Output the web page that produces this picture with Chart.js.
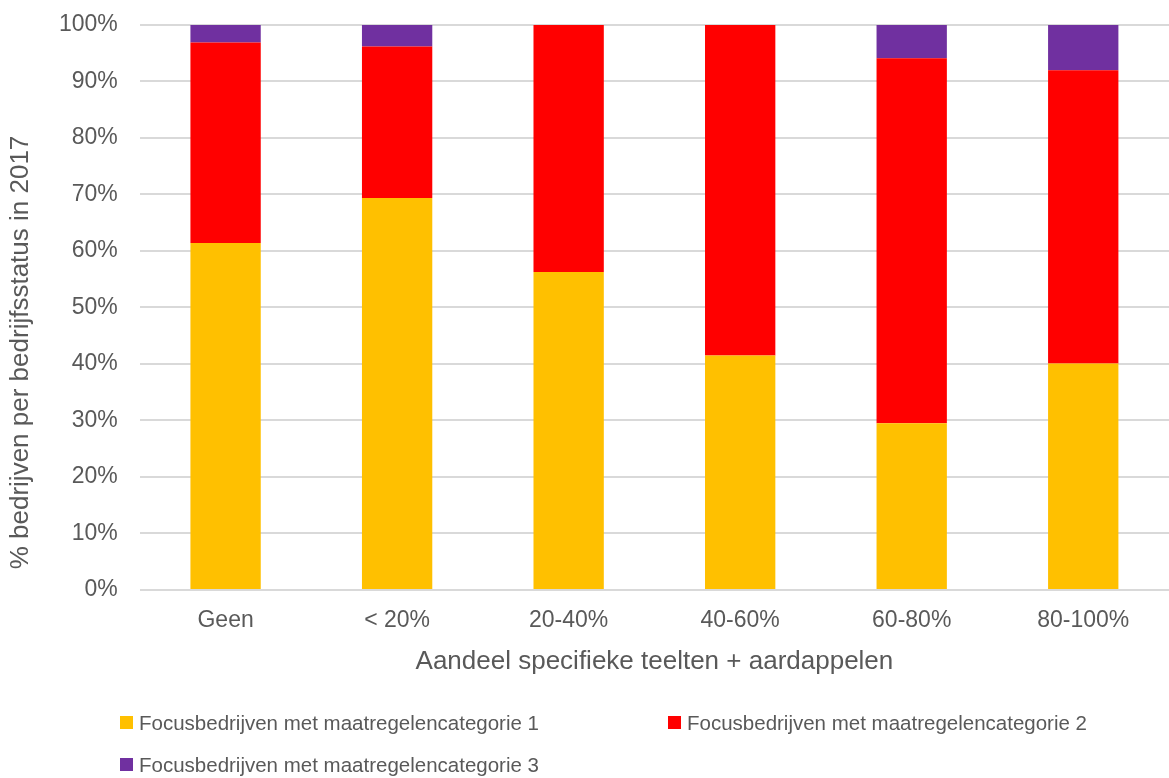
<!DOCTYPE html>
<html>
<head>
<meta charset="utf-8">
<script src="https://cdn.jsdelivr.net/npm/chart.js@4/dist/chart.umd.min.js"></script>
<style>
    html, body { margin: 0; padding: 0; background: #fff; }
    #wrap { position: relative; width: 1169px; height: 778px; }
    #legend { position: absolute; left: 120px; top: 711px; width: 1040px;
        font-family: "Liberation Sans", Arial, sans-serif; font-size: 20.5px; color: #595959; }
    .item { position: absolute; white-space: nowrap; line-height: 24px; }
    .box { display: inline-block; width: 13px; height: 13px; margin-right: 6px; vertical-align: 1px; }
</style>
</head>
<body>
<div id="wrap">
    <canvas id="chart" width="1169" height="778"></canvas>
    <div id="legend"></div>
</div>
<script>
const categories = ['Geen', '< 20%', '20-40%', '40-60%', '60-80%', '80-100%'];
const categorie1 = [61.4, 69.4, 56.3, 41.5, 29.5, 40.1];
const categorie2 = [35.5, 26.8, 43.7, 58.5, 64.6, 51.9];
const categorie3 = [3.1, 3.8, 0, 0, 5.9, 8.0];
const seriesNames = [
    'Focusbedrijven met maatregelencategorie 1',
    'Focusbedrijven met maatregelencategorie 2',
    'Focusbedrijven met maatregelencategorie 3'
];
const seriesColors = ['#FFC000', '#FF0000', '#7030A0'];
const yTitle = '% bedrijven per bedrijfsstatus in 2017';
const xTitle = 'Aandeel specifieke teelten + aardappelen';

const textColor = '#595959';
const fontFamily = '"Liberation Sans", Arial, sans-serif';

// y title drawn by hand: in the original it sits a bit below the plot's middle
const yTitlePlugin = {
    id: 'yTitle',
    afterDraw: function (chart) {
        const c = chart.ctx;
        const area = chart.chartArea;
        c.save();
        c.fillStyle = textColor;
        c.font = '26px ' + fontFamily;
        c.textAlign = 'center';
        c.textBaseline = 'middle';
        c.translate(21, (area.top + area.bottom) / 2 + 45);
        c.rotate(-Math.PI / 2);
        c.fillText(yTitle, 0, 0);
        c.restore();
    }
};

const ctx = document.getElementById('chart').getContext('2d');
new Chart(ctx, {
    type: 'bar',
    data: {
        labels: categories,
        datasets: [categorie1, categorie2, categorie3].map(function (values, i) {
            return {
                label: seriesNames[i],
                data: values,
                backgroundColor: seriesColors[i],
                borderWidth: 0,
                barPercentage: 0.41,
                categoryPercentage: 1
            };
        })
    },
    options: {
        responsive: false,
        animation: false,
        layout: { padding: { left: 37, right: 0, top: 5, bottom: 99 } },
        plugins: {
            legend: { display: false },
            tooltip: { enabled: false }
        },
        scales: {
            x: {
                stacked: true,
                grid: { display: false },
                border: { display: false },
                ticks: { color: textColor, font: { family: fontFamily, size: 23, lineHeight: 1 }, padding: 11 },
                title: {
                    display: true,
                    text: xTitle,
                    color: textColor,
                    font: { family: fontFamily, size: 26, lineHeight: 1 },
                    padding: { top: 6, bottom: 4 }
                }
            },
            y: {
                stacked: true,
                min: 0,
                max: 100,
                ticks: {
                    stepSize: 10,
                    color: textColor,
                    // small lineHeight keeps the top label from pushing the plot down
                    font: { family: fontFamily, size: 23, lineHeight: 0.26 },
                    padding: 22,
                    callback: function (v) { return v + '%'; }
                },
                grid: { color: '#d9d9d9', lineWidth: 2, drawTicks: false },
                border: { display: false }
            }
        }
    },
    plugins: [yTitlePlugin]
});

// legend as html, laid out like the original (two columns)
const legend = document.getElementById('legend');
const spots = [[0, 0], [548, 0], [0, 42]];
seriesNames.forEach(function (name, i) {
    const el = document.createElement('div');
    el.className = 'item';
    el.style.left = spots[i][0] + 'px';
    el.style.top = spots[i][1] + 'px';
    el.innerHTML = '<span class="box" style="background:' + seriesColors[i] + '"></span>';
    el.appendChild(document.createTextNode(name));
    legend.appendChild(el);
});
</script>
</body>
</html>
